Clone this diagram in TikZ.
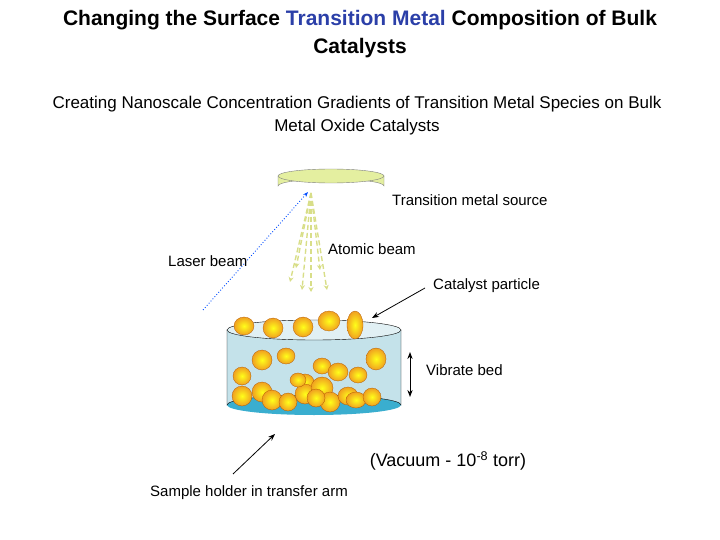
\documentclass[tikz,border=0pt]{standalone}
\usepackage{fontspec}
\setmainfont{Liberation Sans}
\usetikzlibrary{arrows.meta}
\definecolor{tblue}{HTML}{2B3FA8}
\definecolor{disk}{HTML}{E4EFA0}
\definecolor{glass}{HTML}{C4E2EA}
\definecolor{liquid}{HTML}{3AAECF}
\definecolor{atom}{HTML}{D8DE88}
\definecolor{porange}{HTML}{F0A020}
\tikzset{
 lbl/.style={font=\fontsize{15}{17}\selectfont,inner sep=0pt},
 particle/.style={inner color=yellow!90!white,outer color=porange,draw=orange!70!black,line width=0.3pt},
 atomline/.style={atom,line width=1.4pt,dash pattern=on 5pt off 3pt,-{Stealth[length=5pt,width=5pt]}}
}
\begin{document}
\begin{tikzpicture}[x=1pt,y=-1pt]
\useasboundingbox (0,0) rectangle (720,540);
% titles
\node[font=\fontsize{21}{28}\bfseries,align=center,inner sep=0pt] (title) at (360,34) {Changing the Surface \textcolor{tblue}{Transition Metal} Composition of Bulk\\Catalysts};
\node[font=\fontsize{17}{23}\selectfont,align=center,inner sep=0pt] (sub) at (357,116) {Creating Nanoscale Concentration Gradients of Transition Metal Species on Bulk\\Metal Oxide Catalysts};
% source disk
\filldraw[draw=gray,fill=disk] (278,176) -- (278,186) arc[start angle=180,end angle=360,x radius=53,y radius=7] -- (384,176) -- cycle;
\draw[gray,fill=disk] (331,176) ellipse[x radius=53,y radius=7];
\coordinate (src) at (311,193);
% laser
\coordinate (laser0) at (203,310);
\draw[blue!70!cyan,dotted,line width=0.9pt,-{Stealth[length=5pt]}] (laser0) -- (308,192);
% atomic beam
\foreach \ex/\ey in {290/282,302/290,311/292,327/290,296/268,320/270}{
 \draw[atomline] (src) -- (\ex,\ey);
}
% beaker
\fill[glass] (227,330) -- (227,405) arc[start angle=180,end angle=360,x radius=87,y radius=10] -- (401,330) arc[start angle=0,end angle=180,x radius=87,y radius=10];
\fill[liquid] (314,405) ellipse[x radius=87,y radius=10];
\draw[black] (227,330) -- (227,405) arc[start angle=180,end angle=360,x radius=87,y radius=10] -- (401,330);
\draw[black,fill=glass,fill opacity=0.5] (314,330) ellipse[x radius=87,y radius=10];
% particles
\foreach \px/\py/\rx/\ry in {
262/360/10/10,286/356/9/8,322/366/9/8,376/359/10/11,242/376/9/9,
305/382/9/8,338/372/10/9,358/375/9/8,242/396/10/10,262/392/10/10,
272/400/10/10,288/402/9/9,305/394/10/10,322/388/11/11,330/402/10/10,
348/396/10/9,356/400/10/8,372/397/9/9,298/380/8/7,316/398/9/9,
244/326/10/9,273/328/10/10,303/327/10/10,329/321/11/10}{
 \shade[particle] (\px,\py) ellipse[x radius=\rx,y radius=\ry];
}
\shade[particle] (355,325) ellipse[x radius=8,y radius=14];
% labels
\node[lbl,anchor=west] (tms) at (392,200) {Transition metal source};
\node[lbl,anchor=west] (lb) at (168,261) {Laser beam};
\node[lbl,anchor=west] (ab) at (328,249) {Atomic beam};
\node[lbl,anchor=west] (cp) at (433,286) {Catalyst particle};
\node[lbl,anchor=west] (vb) at (426,370) {Vibrate bed};
\node[font=\fontsize{18}{20}\selectfont,inner sep=0pt] (vac) at (448,461) {(Vacuum - 10\textsuperscript{-8} torr)};
\node[lbl,anchor=west] (sh) at (150,493) {Sample holder in transfer arm};
% arrows
\coordinate (cpa) at (425,288); \coordinate (cpb) at (372,318);
\draw[line width=0.8pt,-{Stealth[length=7pt]}] (cpa) -- (cpb);
\coordinate (vba) at (410,352); \coordinate (vbb) at (410,397);
\draw[line width=1pt,{Stealth[length=7pt]}-{Stealth[length=7pt]}] (vba) -- (vbb);
\coordinate (sha) at (233,474); \coordinate (shb) at (275,434);
\draw[line width=0.8pt,-{Stealth[length=7pt]}] (sha) -- (shb);
\end{tikzpicture}
\end{document}
